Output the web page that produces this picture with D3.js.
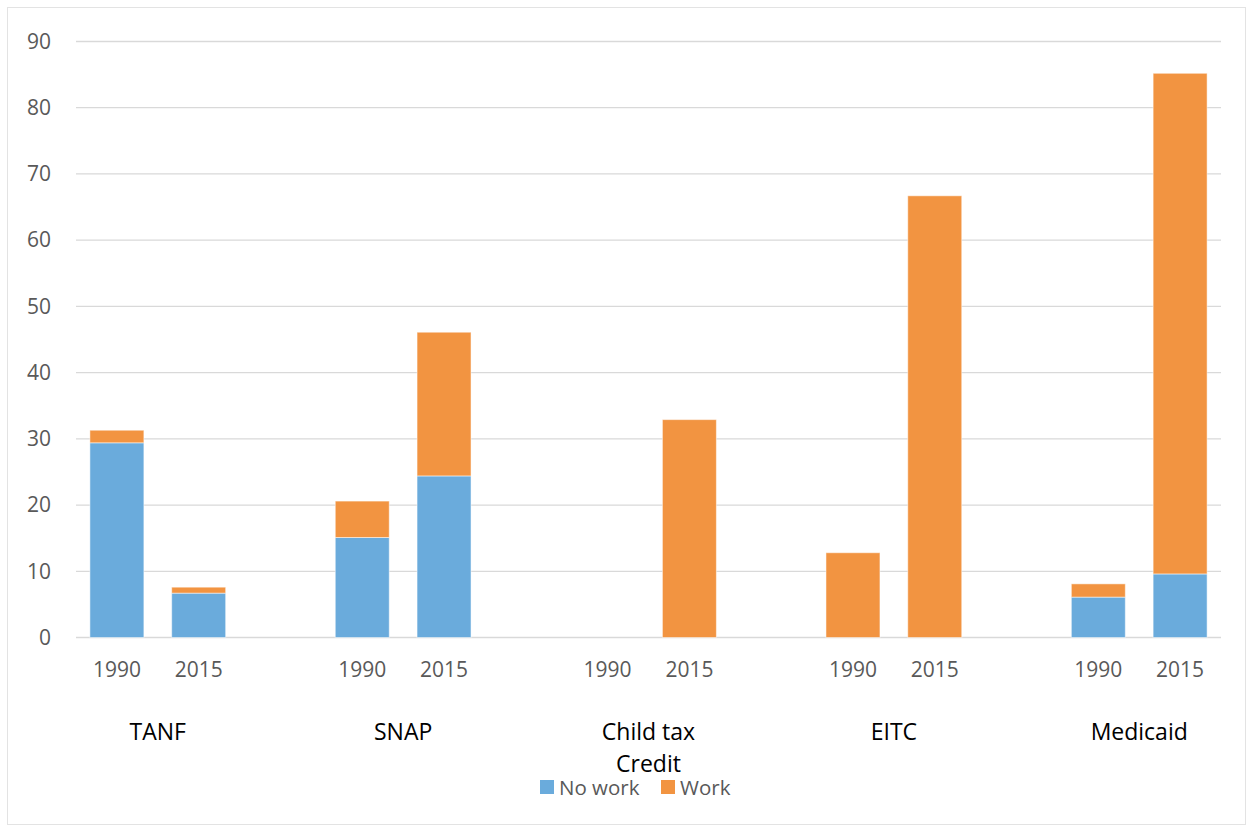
<!DOCTYPE html>
<html>
<head>
<meta charset="utf-8">
<script src="https://cdn.jsdelivr.net/npm/d3@7"></script>
<style>
  body { margin: 0; background: #fff; }
  text { font-family: "Open Sans", "Noto Sans", sans-serif; }
</style>
</head>
<body>
<div id="vis"></div>
<script>
// chart data
var programs = ['TANF', 'SNAP', 'Child tax Credit', 'EITC', 'Medicaid'];
var years = ['1990', '2015'];
var noWork = [29.4, 6.7, 15.1, 24.4, 0, 0, 0, 0, 6.1, 9.6];
var work = [1.9, 0.9, 5.5, 21.7, 0, 32.9, 12.8, 66.7, 2.0, 75.6];
var yTicks = [0, 10, 20, 30, 40, 50, 60, 70, 80, 90];
var seriesNames = ['No work', 'Work'];
var colors = ['#6aabdc', '#f29441'];

var width = 1253, height = 832;
var margin = {top: 41.5, left: 76, right: 32, bottom: 194.5};
var drawWidth = width - margin.left - margin.right,
    drawHeight = height - margin.top - margin.bottom;

var svg = d3.select('#vis').append('svg')
    .attr('width', width)
    .attr('height', height);

svg.append('rect')
    .attr('x', 7.5).attr('y', 7.5)
    .attr('width', width - 15).attr('height', height - 15)
    .attr('fill', 'none')
    .attr('stroke', '#e3e3e3');

// slots: each program gets 1990, 2015 and a blank spacer (not after last)
var slots = [];
var rows = [];
programs.forEach(function(p, i) {
    years.forEach(function(y, j) {
        var k = i * 2 + j;
        slots.push(p + '|' + y);
        rows.push({key: p + '|' + y, program: p, year: y, noWork: noWork[k], work: work[k]});
    });
    if (i < programs.length - 1) slots.push('gap' + i);
});

var x = d3.scaleBand().domain(slots).range([0, drawWidth]).paddingInner(0.34).paddingOuter(0.17);
var y = d3.scaleLinear().domain([0, 90]).range([drawHeight, 0]);

var g = svg.append('g')
    .attr('transform', 'translate(' + margin.left + ',' + margin.top + ')');

g.selectAll('.grid')
    .data(yTicks)
    .enter().append('line')
    .attr('x1', 0).attr('x2', drawWidth)
    .attr('y1', function(d) { return y(d); })
    .attr('y2', function(d) { return y(d); })
    .attr('stroke', '#d9d9d9')
    .attr('stroke-width', 1.3);

var yAxis = d3.axisLeft(y).tickValues(yTicks).tickSize(0).tickPadding(25);
var yg = g.append('g').call(yAxis);
yg.select('.domain').remove();
yg.selectAll('text').attr('font-size', 21).attr('fill', '#595959');

var stack = d3.stack().keys(['noWork', 'work'])(rows);

g.selectAll('.series')
    .data(stack)
    .enter().append('g')
    .attr('fill', function(d, i) { return colors[i]; })
    .selectAll('rect')
    .data(function(d) { return d; })
    .enter().append('rect')
    .filter(function(d) { return d[1] - d[0] > 0; })
    .attr('x', function(d) { return x(d.data.key); })
    .attr('width', x.bandwidth())
    .attr('y', function(d) { return y(d[1]); })
    .attr('height', function(d) { return y(d[0]) - y(d[1]); })
    .attr('stroke', '#fff')
    .attr('stroke-opacity', 0.5)
    .attr('stroke-width', 1);

// year labels
g.selectAll('.year')
    .data(rows)
    .enter().append('text')
    .attr('x', function(d) { return x(d.key) + x.bandwidth() / 2; })
    .attr('y', drawHeight + 39)
    .attr('text-anchor', 'middle')
    .attr('font-size', 21)
    .attr('fill', '#595959')
    .text(function(d) { return d.year; });

// program labels
programs.forEach(function(p) {
    var cx = (x(p + '|1990') + x(p + '|2015') + x.bandwidth()) / 2;
    var lines = p === 'Child tax Credit' ? ['Child tax', 'Credit'] : [p];
    lines.forEach(function(l, i) {
        g.append('text')
            .attr('x', cx)
            .attr('y', drawHeight + 102 + i * 32)
            .attr('text-anchor', 'middle')
            .attr('font-size', 23)
            .attr('fill', '#000')
            .text(l);
    });
});

// legend
var legend = svg.append('g').attr('transform', 'translate(540,780)');
var lx = [0, 121];
seriesNames.forEach(function(s, i) {
    legend.append('rect')
        .attr('x', lx[i]).attr('y', 0)
        .attr('width', 14).attr('height', 14)
        .attr('fill', colors[i]);
    legend.append('text')
        .attr('x', lx[i] + 19).attr('y', 15)
        .attr('font-size', 20.5)
        .attr('fill', '#595959')
        .text(s);
});
</script>
</body>
</html>
